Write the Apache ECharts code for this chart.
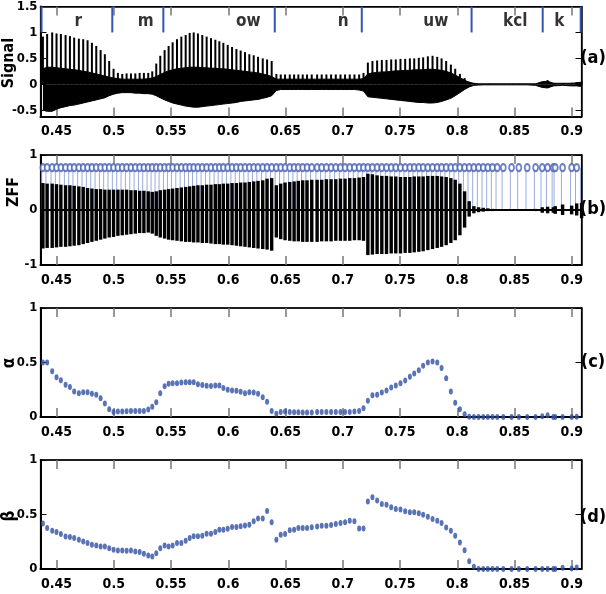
<!DOCTYPE html>
<html>
<head>
<meta charset="utf-8">
<script src="https://cdn.jsdelivr.net/npm/echarts@6/dist/echarts.min.js"></script>
<style>
html, body { margin: 0; padding: 0; background: #fff; }
#chart { width: 606px; height: 594px; }
</style>
</head>
<body>
<div id="chart"></div>
<script>
// epoch (glottal closure) instants, seconds
const epochs = [
  0.4381, 0.4418, 0.4462, 0.4500, 0.4538, 0.4579, 0.4617, 0.4654, 0.4695, 0.4733,
  0.4771, 0.4809, 0.4847, 0.4885, 0.4922, 0.4960, 0.4998, 0.5036, 0.5074, 0.5112,
  0.5150, 0.5188, 0.5226, 0.5263, 0.5301, 0.5336, 0.5371, 0.5406, 0.5444, 0.5479,
  0.5514, 0.5552, 0.5590, 0.5628, 0.5663, 0.5698, 0.5735, 0.5773, 0.5811, 0.5849,
  0.5887, 0.5922, 0.5957, 0.5995, 0.6033, 0.6071, 0.6108, 0.6146, 0.6184, 0.6222,
  0.6260, 0.6301, 0.6339, 0.6379, 0.6420, 0.6458, 0.6496, 0.6537, 0.6575, 0.6612,
  0.6650, 0.6688, 0.6729, 0.6776, 0.6816, 0.6857, 0.6898, 0.6939, 0.6980, 0.7020,
  0.7061, 0.7102, 0.7143, 0.7181, 0.7219, 0.7259, 0.7300, 0.7341, 0.7382, 0.7423,
  0.7463, 0.7504, 0.7545, 0.7586, 0.7624, 0.7664, 0.7702, 0.7743, 0.7784, 0.7825,
  0.7863, 0.7903, 0.7944, 0.7982, 0.8023, 0.8064, 0.8104, 0.8145, 0.8186, 0.8227,
  0.8267, 0.8308, 0.8349, 0.8402, 0.8474, 0.8538, 0.8611, 0.8684, 0.8742, 0.8789,
  0.8839, 0.8856, 0.8920, 0.8999, 0.9043, 0.9086
];

// (a) speech signal: peak of each cycle and the dense band around it
const sigPeak = [
  0.92, 0.97, 1.00, 0.98, 0.97, 0.95, 0.93, 0.90, 0.88, 0.87,
  0.85, 0.80, 0.74, 0.66, 0.58, 0.45, 0.30, 0.22, 0.20, 0.21,
  0.21, 0.21, 0.22, 0.22, 0.22, 0.25, 0.40, 0.55, 0.66, 0.74,
  0.81, 0.87, 0.92, 0.95, 0.99, 1.00, 0.98, 0.95, 0.92, 0.89,
  0.86, 0.83, 0.80, 0.76, 0.72, 0.68, 0.65, 0.62, 0.58, 0.56,
  0.53, 0.50, 0.48, 0.45, 0.20, 0.19, 0.19, 0.19, 0.19, 0.19,
  0.19, 0.19, 0.19, 0.19, 0.19, 0.19, 0.19, 0.19, 0.19, 0.19,
  0.19, 0.19, 0.19, 0.22, 0.42, 0.45, 0.46, 0.47, 0.47, 0.48,
  0.48, 0.49, 0.49, 0.50, 0.50, 0.51, 0.52, 0.54, 0.55, 0.53,
  0.50, 0.45, 0.38, 0.30, 0.20, 0.12, 0.05, 0.02, 0.01, 0.01,
  0.01, 0.01, 0.01, 0.01, 0.01, 0.01, 0.01, 0.01, 0.05, 0.08,
  0.03, 0.02, 0.02, 0.03, 0.04, 0.05
];
const bandHi = [
  0.30, 0.33, 0.33, 0.32, 0.31, 0.30, 0.29, 0.28, 0.27, 0.25,
  0.24, 0.22, 0.20, 0.18, 0.16, 0.14, 0.12, 0.11, 0.10, 0.10,
  0.10, 0.10, 0.10, 0.10, 0.11, 0.12, 0.15, 0.19, 0.23, 0.26,
  0.28, 0.30, 0.31, 0.32, 0.33, 0.33, 0.33, 0.32, 0.32, 0.31,
  0.31, 0.30, 0.30, 0.29, 0.28, 0.27, 0.26, 0.25, 0.24, 0.23,
  0.22, 0.20, 0.18, 0.15, 0.10, 0.10, 0.10, 0.10, 0.10, 0.10,
  0.10, 0.10, 0.10, 0.10, 0.10, 0.10, 0.10, 0.10, 0.10, 0.10,
  0.10, 0.10, 0.10, 0.11, 0.20, 0.22, 0.23, 0.24, 0.24, 0.25,
  0.26, 0.26, 0.27, 0.27, 0.28, 0.28, 0.28, 0.29, 0.29, 0.28,
  0.27, 0.25, 0.22, 0.18, 0.13, 0.08, 0.04, 0.02, 0.01, 0.01,
  0.01, 0.01, 0.01, 0.01, 0.01, 0.01, 0.01, 0.01, 0.05, 0.06,
  0.02, 0.02, 0.02, 0.02, 0.03, 0.04
];
const bandLo = [
  -0.50, -0.52, -0.52, -0.48, -0.45, -0.43, -0.41, -0.40, -0.38, -0.36,
  -0.34, -0.32, -0.30, -0.28, -0.26, -0.22, -0.19, -0.17, -0.16, -0.16,
  -0.16, -0.17, -0.17, -0.18, -0.18, -0.19, -0.22, -0.26, -0.30, -0.33,
  -0.36, -0.38, -0.40, -0.42, -0.43, -0.44, -0.44, -0.43, -0.42, -0.41,
  -0.40, -0.39, -0.38, -0.37, -0.36, -0.35, -0.33, -0.32, -0.31, -0.30,
  -0.29, -0.27, -0.25, -0.22, -0.12, -0.10, -0.10, -0.10, -0.10, -0.10,
  -0.10, -0.10, -0.10, -0.10, -0.10, -0.10, -0.10, -0.10, -0.10, -0.10,
  -0.10, -0.10, -0.11, -0.13, -0.24, -0.25, -0.26, -0.27, -0.28, -0.29,
  -0.30, -0.31, -0.32, -0.33, -0.34, -0.35, -0.35, -0.36, -0.36, -0.35,
  -0.33, -0.30, -0.27, -0.22, -0.16, -0.10, -0.05, -0.02, -0.015, -0.01,
  -0.01, -0.01, -0.01, -0.01, -0.01, -0.01, -0.01, -0.02, -0.06, -0.07,
  -0.03, -0.02, -0.02, -0.03, -0.03, -0.04
];

// (b) zero frequency filtered signal, positive and negative swing per cycle
const zffHi = [
  0.49, 0.48, 0.48, 0.47, 0.46, 0.45, 0.45, 0.44, 0.43, 0.42,
  0.40, 0.39, 0.38, 0.38, 0.37, 0.37, 0.37, 0.37, 0.37, 0.37,
  0.36, 0.36, 0.35, 0.35, 0.34, 0.33, 0.34, 0.36, 0.37, 0.38,
  0.39, 0.40, 0.41, 0.42, 0.43, 0.44, 0.45, 0.45, 0.46, 0.46,
  0.47, 0.47, 0.48, 0.48, 0.49, 0.49, 0.50, 0.50, 0.51, 0.52,
  0.53, 0.54, 0.57, 0.58, 0.45, 0.48, 0.50, 0.51, 0.52, 0.53,
  0.54, 0.54, 0.55, 0.55, 0.55, 0.56, 0.56, 0.56, 0.57, 0.57,
  0.58, 0.58, 0.59, 0.60, 0.66, 0.65, 0.63, 0.62, 0.62, 0.61,
  0.61, 0.60, 0.60, 0.60, 0.61, 0.61, 0.61, 0.62, 0.62, 0.62,
  0.61, 0.60, 0.58, 0.55, 0.48, 0.34, 0.16, 0.07, 0.05, 0.04,
  0.03, 0.02, 0.015, 0.01, 0.01, 0.01, 0.01, 0.02, 0.05, 0.06,
  0.05, 0.07, 0.10, 0.08, 0.12, 0.13
];
const zffLo = [
  -0.70, -0.69, -0.69, -0.68, -0.67, -0.67, -0.66, -0.65, -0.64, -0.62,
  -0.60, -0.58, -0.56, -0.54, -0.52, -0.50, -0.49, -0.47, -0.46, -0.45,
  -0.44, -0.43, -0.42, -0.42, -0.41, -0.43, -0.47, -0.50, -0.52, -0.54,
  -0.55, -0.56, -0.57, -0.58, -0.58, -0.59, -0.59, -0.60, -0.60, -0.61,
  -0.62, -0.62, -0.63, -0.63, -0.64, -0.65, -0.66, -0.67, -0.68, -0.69,
  -0.70, -0.71, -0.72, -0.74, -0.50, -0.53, -0.55, -0.56, -0.57, -0.57,
  -0.58, -0.58, -0.58, -0.58, -0.57, -0.57, -0.57, -0.56, -0.56, -0.56,
  -0.56, -0.55, -0.55, -0.56, -0.82, -0.81, -0.80, -0.80, -0.80, -0.79,
  -0.79, -0.79, -0.78, -0.78, -0.77, -0.76, -0.75, -0.73, -0.71, -0.69,
  -0.67, -0.64, -0.60, -0.55, -0.46, -0.32, -0.12, -0.06, -0.04, -0.03,
  -0.02, -0.02, -0.015, -0.01, -0.01, -0.01, -0.01, -0.02, -0.05, -0.06,
  -0.05, -0.07, -0.09, -0.08, -0.10, -0.15
];
const stemHeight = 0.77;
const zffBaseline = 0;

// (c) alpha and (d) beta at each epoch
const alphaVals = [
  0.50, 0.50, 0.42, 0.365, 0.337, 0.297, 0.275, 0.234, 0.219, 0.228,
  0.228, 0.213, 0.203, 0.172, 0.125, 0.072, 0.047, 0.05, 0.05, 0.053,
  0.056, 0.056, 0.056, 0.056, 0.069, 0.094, 0.135, 0.219, 0.281, 0.306,
  0.31, 0.31, 0.316, 0.319, 0.319, 0.319, 0.30, 0.294, 0.287, 0.284,
  0.29, 0.29, 0.266, 0.25, 0.244, 0.241, 0.231, 0.219, 0.228, 0.225,
  0.213, 0.181, 0.14, 0.056, 0.03, 0.045, 0.05, 0.045, 0.044, 0.044,
  0.041, 0.041, 0.041, 0.045, 0.045, 0.045, 0.045, 0.045, 0.045, 0.045,
  0.045, 0.05, 0.055, 0.08, 0.15, 0.20, 0.205, 0.225, 0.244, 0.27,
  0.29, 0.31, 0.335, 0.37, 0.40, 0.43, 0.47, 0.50, 0.51, 0.50,
  0.45, 0.355, 0.235, 0.13, 0.07, 0.025, 0.002, 0, 0, 0,
  0, 0, 0, 0, 0, 0, 0, 0, 0.006, 0.015,
  0, 0, 0, 0, 0.003, 0.012
];
const betaVals = [
  0.417, 0.377, 0.352, 0.34, 0.321, 0.299, 0.293, 0.284, 0.269, 0.253,
  0.238, 0.222, 0.216, 0.207, 0.207, 0.191, 0.176, 0.17, 0.17, 0.167,
  0.17, 0.16, 0.155, 0.139, 0.123, 0.114, 0.145, 0.191, 0.216, 0.207,
  0.216, 0.238, 0.238, 0.26, 0.284, 0.30, 0.30, 0.306, 0.324, 0.324,
  0.34, 0.361, 0.361, 0.37, 0.386, 0.386, 0.392, 0.398, 0.407, 0.438,
  0.463, 0.463, 0.531, 0.429, 0.269, 0.315, 0.321, 0.355, 0.361, 0.377,
  0.377, 0.377, 0.383, 0.391, 0.397, 0.397, 0.403, 0.412, 0.422, 0.428,
  0.443, 0.437, 0.372, 0.372, 0.619, 0.659, 0.628, 0.597, 0.59, 0.567,
  0.551, 0.545, 0.53, 0.52, 0.52, 0.511, 0.498, 0.48, 0.458, 0.443,
  0.421, 0.381, 0.35, 0.304, 0.243, 0.171, 0.072, 0.02, 0, 0,
  0, 0, 0, 0, 0, 0, 0, 0, 0, 0,
  0, 0, 0.012, 0.005, 0.014, 0.02
];

// phone segmentation shown in (a)
const boundaries = [0.4369, 0.4987, 0.5433, 0.6406, 0.7166, 0.8125, 0.8746, 0.9078];
const phones = ['r', 'm', 'ow', 'n', 'uw', 'kcl', 'k'];
const phoneCenters = [0.469, 0.5278, 0.6176, 0.7003, 0.7813, 0.8506, 0.8891];
const phoneLabelY = 1.2;
const boundaryRange = [1.0, 1.5];

const xTicks = [0.45, 0.5, 0.55, 0.6, 0.65, 0.7, 0.75, 0.8, 0.85, 0.9];
const sigTicks = [-0.5, 0, 0.5, 1, 1.5];
const zffTicks = [-1, 0, 1];
const unitTicks = [0, 0.5, 1];

const FONT = '"Liberation Sans Narrow", "DejaVu Sans Condensed", "Liberation Sans", Arial, sans-serif';
const BLUE = '#3050a2';

const pts = (vals) => epochs.map((t, i) => [t, vals[i]]);

const panels = [
  { top: 6, height: 110.5, min: -0.62, max: 1.5, ticks: sigTicks },
  { top: 155, height: 110, min: -1, max: 1, ticks: zffTicks },
  { top: 308, height: 109, min: 0, max: 1, ticks: unitTicks },
  { top: 460, height: 109, min: 0, max: 1, ticks: unitTicks }
];

const grid = [], xAxis = [], yAxis = [];
panels.forEach((p, i) => {
  grid.push({ left: 40.5, width: 541, top: p.top, height: p.height, show: true, borderColor: '#000', borderWidth: 1.2 });
  const xBase = {
    type: 'value', gridIndex: i, min: 0.436, max: 0.9085,
    splitLine: { show: false },
    axisTick: { show: true, inside: true, length: 9, customValues: xTicks, lineStyle: { color: '#777', width: 1.5 } }
  };
  xAxis.push(Object.assign({}, xBase, {
    position: 'bottom',
    axisLine: { show: true, onZero: false, lineStyle: { color: '#000', width: 2 } },
    axisLabel: { customValues: xTicks, color: '#000', fontFamily: FONT, fontWeight: 'bold', fontSize: 14, margin: 8 }
  }));
  xAxis.push(Object.assign({}, xBase, {
    position: 'top',
    axisLine: { show: true, onZero: false, lineStyle: { color: '#000', width: 1.5 } },
    axisLabel: { show: false }
  }));
  const yBase = {
    type: 'value', gridIndex: i, min: p.min, max: p.max,
    splitLine: { show: false },
    axisTick: { show: true, inside: true, length: 6, customValues: p.ticks, lineStyle: { color: '#000', width: 1 } }
  };
  yAxis.push(Object.assign({}, yBase, {
    position: 'left',
    axisLine: { show: true, onZero: false, lineStyle: { color: '#000', width: 2 } },
    axisLabel: { customValues: p.ticks, color: '#000', fontFamily: FONT, fontWeight: 'bold', fontSize: 13, margin: 3 }
  }));
  yAxis.push(Object.assign({}, yBase, {
    position: 'right',
    axisLine: { show: true, onZero: false, lineStyle: { color: '#000', width: 1.5 } },
    axisLabel: { show: false }
  }));
});

const series = [
  // (a)
  {
    type: 'line', xAxisIndex: 0, yAxisIndex: 0, data: pts(bandHi), showSymbol: false,
    lineStyle: { color: '#000', width: 1 }, areaStyle: { color: '#000', opacity: 1 }
  },
  {
    type: 'line', xAxisIndex: 0, yAxisIndex: 0, data: pts(bandLo), showSymbol: false,
    lineStyle: { color: '#000', width: 1 }, areaStyle: { color: '#000', opacity: 1 }
  },
  {
    type: 'bar', xAxisIndex: 0, yAxisIndex: 0, data: pts(sigPeak), barWidth: 2,
    itemStyle: { color: '#000' }
  },
  {
    type: 'custom', xAxisIndex: 0, yAxisIndex: 0,
    data: boundaries.map(t => [t, boundaryRange[1]]),
    encode: { x: 0, y: 1 },
    renderItem: (params, api) => {
      const a = api.coord([api.value(0), boundaryRange[0]]);
      const b = api.coord([api.value(0), boundaryRange[1]]);
      return { type: 'line', shape: { x1: a[0], y1: a[1], x2: b[0], y2: b[1] }, style: { stroke: '#3553b0', lineWidth: 2 } };
    }
  },
  {
    type: 'scatter', xAxisIndex: 0, yAxisIndex: 0, symbolSize: 0,
    data: phones.map((ph, i) => ({ name: ph, value: [phoneCenters[i], phoneLabelY] })),
    label: { show: true, position: 'inside', formatter: '{b}', color: '#000', fontFamily: FONT, fontWeight: 'bold', fontSize: 17 }
  },
  // (b)
  {
    type: 'bar', xAxisIndex: 2, yAxisIndex: 2, data: pts(epochs.map(() => stemHeight)), barWidth: 1, barGap: '-100%',
    itemStyle: { color: '#9babdc' }, z: 1
  },
  {
    type: 'bar', xAxisIndex: 2, yAxisIndex: 2, data: pts(zffHi), barWidth: 3.4, barGap: '-100%',
    itemStyle: { color: '#000' }, z: 2
  },
  {
    type: 'bar', xAxisIndex: 2, yAxisIndex: 2, data: pts(zffLo), barWidth: 3.4, barGap: '-100%',
    itemStyle: { color: '#000' }, z: 2
  },
  {
    // baseline of the ZFF trace, across the whole panel
    type: 'custom', xAxisIndex: 2, yAxisIndex: 2, z: 4,
    data: [[epochs[0], zffBaseline]],
    encode: { x: 0, y: 1 },
    renderItem: (params, api) => {
      const cs = params.coordSys;
      const y = api.coord([api.value(0), api.value(1)])[1];
      return { type: 'line', shape: { x1: cs.x, y1: y, x2: cs.x + cs.width, y2: y }, style: { stroke: '#000', lineWidth: 2 } };
    }
  },
  {
    type: 'scatter', xAxisIndex: 2, yAxisIndex: 2, data: pts(epochs.map(() => stemHeight)),
    symbol: 'emptyCircle', symbolSize: [5, 7], itemStyle: { color: '#4a62b4', borderWidth: 1 }, z: 3
  },
  // (c)
  {
    type: 'scatter', xAxisIndex: 4, yAxisIndex: 4, data: pts(alphaVals),
    symbol: 'circle', symbolSize: [4, 6], itemStyle: { color: BLUE }
  },
  // (d)
  {
    type: 'scatter', xAxisIndex: 6, yAxisIndex: 6, data: pts(betaVals),
    symbol: 'circle', symbolSize: [4, 6], itemStyle: { color: BLUE }
  }
];

const sideText = (txt, x, y, size, rot) => ({
  type: 'text', x: x, y: y, rotation: rot || 0,
  style: { text: txt, fontFamily: FONT, fontWeight: 'bold', fontSize: size, fill: '#000', align: 'center', verticalAlign: 'middle' }
});

const chart = echarts.init(document.getElementById('chart'), null, { renderer: 'canvas' });
chart.setOption({
  animation: false,
  backgroundColor: '#fff',
  grid: grid,
  xAxis: xAxis,
  yAxis: yAxis,
  series: series,
  graphic: [
    sideText('Signal', 9, 63, 16, Math.PI / 2),
    sideText('ZFF', 14, 192, 16, Math.PI / 2),
    sideText('\u03b1', 10, 363, 17, Math.PI / 2),
    sideText('\u03b2', 10, 516, 17, Math.PI / 2),
    sideText('(a)', 593, 58, 18),
    sideText('(b)', 593, 209, 18),
    sideText('(c)', 593, 362, 18),
    sideText('(d)', 593, 517, 18)
  ]
});
</script>
</body>
</html>
